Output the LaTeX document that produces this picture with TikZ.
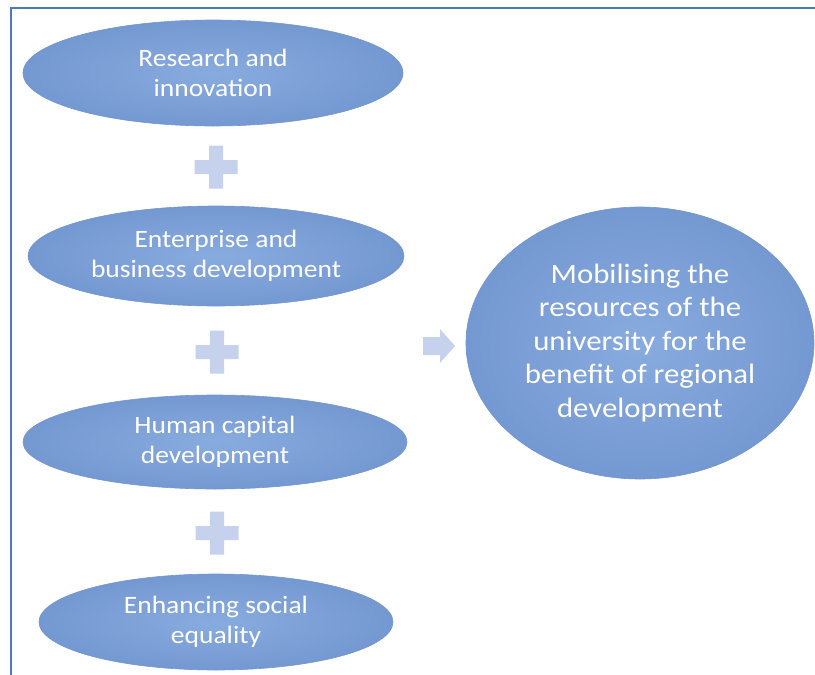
\documentclass[tikz,border=0pt]{standalone}
\usepackage{fontspec}
\setmainfont[FakeStretch=1.1]{Carlito}
\usetikzlibrary{shapes.geometric}

\definecolor{ovallight}{HTML}{88ABDF}
\definecolor{ovaldark}{HTML}{7498D1}
\definecolor{ovalline}{HTML}{7597CD}
\definecolor{opcolor}{HTML}{C6D1EE}
\definecolor{framecol}{HTML}{4A7BC2}

\tikzset{
  oval/.style={ellipse, inner sep=0pt, align=center, text=white,
    inner color=ovallight, outer color=ovaldark, draw=ovalline, line width=0.6pt},
  smalltext/.style={font=\fontsize{25}{30}\selectfont},
  bigtext/.style={font=\fontsize{28}{33.5}\selectfont},
  plusop/.pic={
    \fill[opcolor] (-7,-21.5) -- (7,-21.5) -- (7,-7) -- (21.5,-7) -- (21.5,7)
      -- (7,7) -- (7,21.5) -- (-7,21.5) -- (-7,7) -- (-21.5,7) -- (-21.5,-7)
      -- (-7,-7) -- cycle;
  },
  yieldsop/.pic={
    \fill[opcolor] (-16,-9) -- (1,-9) -- (1,-17) -- (16,0) -- (1,17)
      -- (1,9) -- (-16,9) -- cycle;
  }
}

\begin{document}
\begin{tikzpicture}[x=1pt, y=-1pt]
  % page and frame
  \fill[white] (0,0) rectangle (815,675);
  \useasboundingbox (0,0) rectangle (815,675);
  \draw[framecol, line width=2.6pt] (815,8) -- (11,8) -- (11,675);

  % the four contributing activities
  \node[oval, smalltext, minimum width=380pt, minimum height=106pt] (res) at (213,73)
    {Research and\\innovation};
  \node[oval, smalltext, minimum width=376pt, minimum height=100pt] (ent) at (216,256)
    {Enterprise and\\business development};
  \node[oval, smalltext, minimum width=384pt, minimum height=94pt] (hum) at (215,442)
    {Human capital\\development};
  \node[oval, smalltext, minimum width=354pt, minimum height=96pt] (soc) at (216,622)
    {Enhancing social\\equality};

  % the combined outcome
  \node[oval, bigtext, minimum width=348pt, minimum height=272pt] (goal) at (640,343)
    {Mobilising the\\resources of the\\university for the\\benefit of regional\\development};

  % operators between the activities and towards the outcome
  \coordinate (plusA) at (216,167);
  \coordinate (plusB) at (217,352);
  \coordinate (plusC) at (217,533);
  \coordinate (yields) at (439,346);
  \pic at (plusA) {plusop};
  \pic at (plusB) {plusop};
  \pic at (plusC) {plusop};
  \pic at (yields) {yieldsop};
\end{tikzpicture}
\end{document}
